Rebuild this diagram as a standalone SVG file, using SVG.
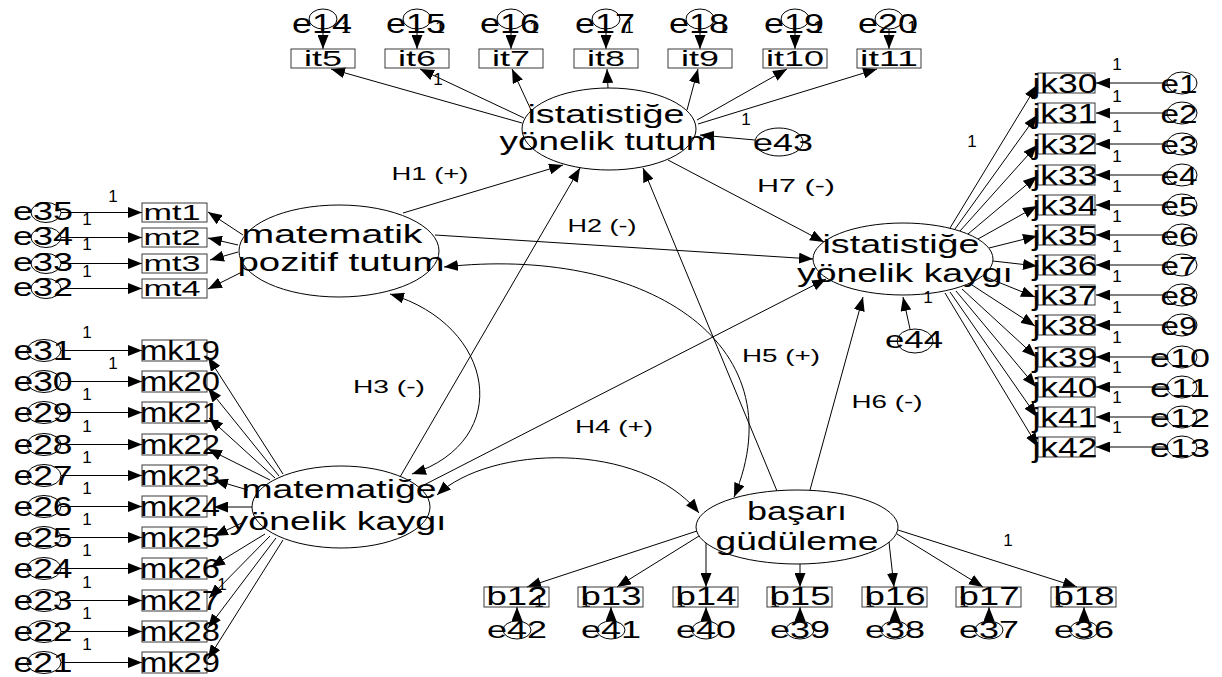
<svg xmlns="http://www.w3.org/2000/svg" width="1222" height="677" viewBox="0 0 1222 677">
<defs>
<style>
text{font-family:"Liberation Sans",Arial,sans-serif;fill:#000;text-anchor:middle}
.lat{font-size:25px}
.s21{font-size:22px}
.s27{font-size:27px}
.s25{font-size:25px}
.s24{font-size:24px}
.w{font-size:17px}
.h{font-size:18px}
.el{fill:none;stroke:#000;stroke-width:1}
.bx{fill:none;stroke:#3a3a3a;stroke-width:1}
#connectors line,#connectors path{fill:none;stroke:#000;stroke-width:1;marker-end:url(#ah)}
#connectors .dbl{marker-start:url(#ah)}
</style>
<marker id="ah" viewBox="0 0 14 11" refX="14" refY="5.5" markerWidth="14" markerHeight="11" markerUnits="userSpaceOnUse" orient="auto-start-reverse">
<path d="M0,0 L14,5.5 L0,11 z" fill="#000"/>
</marker>
</defs>
<rect width="1222" height="677" fill="#fff"/>

<g id="connectors">
<!-- error terms to it items -->
<line x1="323" y1="29" x2="323" y2="49"/>
<line x1="417" y1="29" x2="417" y2="49"/>
<line x1="511" y1="29" x2="511" y2="49"/>
<line x1="606" y1="29" x2="606" y2="49"/>
<line x1="700" y1="29" x2="700" y2="49"/>
<line x1="795" y1="29" x2="795" y2="49"/>
<line x1="889" y1="29" x2="889" y2="49"/>
<!-- istatistiğe yönelik tutum loadings -->
<line x1="522" y1="123" x2="331" y2="69"/>
<line x1="524" y1="118" x2="420" y2="69"/>
<line x1="531" y1="110" x2="512" y2="69"/>
<line x1="608" y1="88" x2="607" y2="69"/>
<line x1="687" y1="110" x2="698" y2="69"/>
<line x1="697" y1="120" x2="787" y2="69"/>
<line x1="698" y1="124" x2="877" y2="69"/>
<line x1="755" y1="140" x2="700" y2="135"/>
<!-- matematik pozitif tutum -->
<line x1="61" y1="212.5" x2="142" y2="212.5"/>
<line x1="61" y1="237.5" x2="142" y2="237.5"/>
<line x1="61" y1="263.5" x2="142" y2="263.5"/>
<line x1="61" y1="288.5" x2="142" y2="288.5"/>
<line x1="243" y1="235" x2="208" y2="212"/>
<line x1="238" y1="245" x2="208" y2="238"/>
<line x1="238" y1="252" x2="210" y2="260"/>
<line x1="242" y1="272" x2="208" y2="289"/>
<!-- matematiğe yönelik kaygı -->
<line x1="61" y1="350.5" x2="142" y2="350.5"/>
<line x1="61" y1="381.5" x2="142" y2="381.5"/>
<line x1="61" y1="412.5" x2="142" y2="412.5"/>
<line x1="61" y1="444.5" x2="142" y2="444.5"/>
<line x1="61" y1="475.5" x2="142" y2="475.5"/>
<line x1="61" y1="506.5" x2="142" y2="506.5"/>
<line x1="61" y1="537.5" x2="142" y2="537.5"/>
<line x1="61" y1="568.5" x2="142" y2="568.5"/>
<line x1="61" y1="600.5" x2="142" y2="600.5"/>
<line x1="61" y1="631.5" x2="142" y2="631.5"/>
<line x1="61" y1="662.5" x2="142" y2="662.5"/>
<line x1="283" y1="474" x2="208" y2="357"/>
<line x1="279" y1="476" x2="208" y2="388"/>
<line x1="275" y1="478" x2="209" y2="418"/>
<line x1="270" y1="480" x2="208" y2="449"/>
<line x1="248" y1="490" x2="214" y2="480"/>
<line x1="252" y1="507" x2="214" y2="507"/>
<line x1="244" y1="522" x2="214" y2="536"/>
<line x1="265" y1="534" x2="211" y2="567"/>
<line x1="270" y1="536" x2="209" y2="598"/>
<line x1="276" y1="538" x2="208" y2="628"/>
<line x1="283" y1="540" x2="208" y2="659"/>
<!-- istatistiğe yönelik kaygı -->
<line x1="950" y1="228" x2="1037" y2="85"/>
<line x1="955" y1="229" x2="1037" y2="115"/>
<line x1="960" y1="231" x2="1037" y2="145"/>
<line x1="968" y1="234" x2="1037" y2="176"/>
<line x1="978" y1="239" x2="1037" y2="206"/>
<line x1="989" y1="248" x2="1037" y2="236"/>
<line x1="993" y1="261" x2="1037" y2="266"/>
<line x1="983" y1="276" x2="1035" y2="297"/>
<line x1="972" y1="285" x2="1035" y2="326"/>
<line x1="962" y1="289" x2="1036" y2="357"/>
<line x1="956" y1="291" x2="1036" y2="387"/>
<line x1="950" y1="292" x2="1037" y2="417"/>
<line x1="945" y1="293" x2="1038" y2="447"/>
<line x1="1167" y1="83" x2="1096" y2="83"/>
<line x1="1167" y1="113" x2="1096" y2="113"/>
<line x1="1167" y1="144" x2="1096" y2="144"/>
<line x1="1167" y1="175" x2="1096" y2="175"/>
<line x1="1167" y1="205" x2="1096" y2="205"/>
<line x1="1167" y1="235" x2="1096" y2="235"/>
<line x1="1167" y1="265" x2="1096" y2="265"/>
<line x1="1167" y1="295" x2="1096" y2="295"/>
<line x1="1167" y1="325" x2="1096" y2="325"/>
<line x1="1167" y1="357" x2="1096" y2="357"/>
<line x1="1167" y1="387" x2="1096" y2="387"/>
<line x1="1167" y1="417" x2="1096" y2="417"/>
<line x1="1167" y1="447" x2="1096" y2="447"/>
<line x1="910" y1="329" x2="903" y2="297"/>
<!-- başarı güdüleme -->
<line x1="697" y1="531" x2="527" y2="587"/>
<line x1="699" y1="536" x2="617" y2="587"/>
<line x1="706" y1="543" x2="706" y2="587"/>
<line x1="800" y1="564" x2="800" y2="587"/>
<line x1="889" y1="542" x2="894" y2="587"/>
<line x1="897" y1="534" x2="983" y2="587"/>
<line x1="898" y1="530" x2="1077" y2="587"/>
<line x1="517" y1="621" x2="517" y2="607"/>
<line x1="611" y1="621" x2="611" y2="607"/>
<line x1="706" y1="621" x2="706" y2="607"/>
<line x1="800" y1="621" x2="800" y2="607"/>
<line x1="895" y1="621" x2="895" y2="607"/>
<line x1="989" y1="621" x2="989" y2="607"/>
<line x1="1084" y1="621" x2="1084" y2="607"/>
<!-- structural paths -->
<line x1="403" y1="213" x2="563" y2="165"/>
<line x1="435" y1="235" x2="813" y2="259"/>
<line x1="400" y1="477" x2="580" y2="168"/>
<line x1="422" y1="486" x2="826" y2="279"/>
<line x1="777" y1="491" x2="643" y2="168"/>
<line x1="810" y1="490" x2="863" y2="297"/>
<line x1="668" y1="160" x2="824" y2="242"/>
<!-- covariances -->
<path class="dbl" d="M390,294 C495,325 515,440 412,474"/>
<path class="dbl" d="M437,495 C490,445 640,440 699,513"/>
<path class="dbl" d="M444,267 C640,245 800,340 734,497"/>
</g>

<g id="path-labels">
<text class="h" x="430" y="180" textLength="77" lengthAdjust="spacingAndGlyphs">H1 (+)</text>
<text class="h" x="602" y="232" textLength="69" lengthAdjust="spacingAndGlyphs">H2 (-)</text>
<text class="h" x="389" y="393" textLength="72" lengthAdjust="spacingAndGlyphs">H3 (-)</text>
<text class="h" x="614" y="433" textLength="78" lengthAdjust="spacingAndGlyphs">H4 (+)</text>
<text class="h" x="781" y="362" textLength="78" lengthAdjust="spacingAndGlyphs">H5 (+)</text>
<text class="h" x="887" y="408" textLength="71" lengthAdjust="spacingAndGlyphs">H6 (-)</text>
<text class="h" x="796" y="192" textLength="78" lengthAdjust="spacingAndGlyphs">H7  (-)</text>
</g>

<g id="weights">
<text class="w" x="346" y="33">1</text>
<text class="w" x="440" y="33">1</text>
<text class="w" x="534" y="33">1</text>
<text class="w" x="629" y="33">1</text>
<text class="w" x="723" y="33">1</text>
<text class="w" x="818" y="33">1</text>
<text class="w" x="912" y="33">1</text>
<text class="w" x="438" y="85">1</text>
<text class="w" x="746" y="125">1</text>
<text class="w" x="972" y="147">1</text>
<text class="w" x="928" y="303">1</text>
<text class="w" x="113" y="202">1</text>
<text class="w" x="87" y="225">1</text>
<text class="w" x="87" y="250">1</text>
<text class="w" x="87" y="277">1</text>
<text class="w" x="87" y="338">1</text>
<text class="w" x="113" y="369">1</text>
<text class="w" x="87" y="400">1</text>
<text class="w" x="87" y="432">1</text>
<text class="w" x="87" y="463">1</text>
<text class="w" x="87" y="494">1</text>
<text class="w" x="87" y="525">1</text>
<text class="w" x="87" y="556">1</text>
<text class="w" x="87" y="588">1</text>
<text class="w" x="87" y="619">1</text>
<text class="w" x="87" y="650">1</text>
<text class="w" x="222" y="590">1</text>
<text class="w" x="1117" y="70">1</text>
<text class="w" x="1117" y="102">1</text>
<text class="w" x="1117" y="132">1</text>
<text class="w" x="1117" y="162">1</text>
<text class="w" x="1117" y="192">1</text>
<text class="w" x="1117" y="222">1</text>
<text class="w" x="1117" y="252">1</text>
<text class="w" x="1117" y="282">1</text>
<text class="w" x="1117" y="313">1</text>
<text class="w" x="1117" y="343">1</text>
<text class="w" x="1117" y="373">1</text>
<text class="w" x="1117" y="403">1</text>
<text class="w" x="1117" y="433">1</text>
<text class="w" x="539" y="607">1</text>
<text class="w" x="586" y="607">1</text>
<text class="w" x="681" y="607">1</text>
<text class="w" x="775" y="607">1</text>
<text class="w" x="870" y="607">1</text>
<text class="w" x="964" y="607">1</text>
<text class="w" x="1059" y="607">1</text>
<text class="w" x="1008" y="546">1</text>
</g>

<!-- latent variables -->
<g id="lat-ist-tutum">
<ellipse class="el" cx="609" cy="129" rx="87" ry="41"/>
<text class="lat" x="606" y="123" textLength="157" lengthAdjust="spacingAndGlyphs">istatistiğe</text>
<text class="lat" x="608" y="150" textLength="217" lengthAdjust="spacingAndGlyphs">yönelik tutum</text>
</g>
<g id="lat-mat-pozitif">
<ellipse class="el" cx="339" cy="251" rx="100" ry="46"/>
<text class="lat" x="332" y="243" textLength="181" lengthAdjust="spacingAndGlyphs">matematik</text>
<text class="lat" x="341" y="271" textLength="207" lengthAdjust="spacingAndGlyphs">pozitif tutum</text>
</g>
<g id="lat-mat-kaygi">
<ellipse class="el" cx="341" cy="507" rx="89" ry="41"/>
<text class="lat" x="339" y="498" textLength="195" lengthAdjust="spacingAndGlyphs">matematiğe</text>
<text class="lat" x="338" y="530" textLength="217" lengthAdjust="spacingAndGlyphs">yönelik kaygı</text>
</g>
<g id="lat-ist-kaygi">
<ellipse class="el" cx="903" cy="259" rx="90" ry="36"/>
<text class="lat" x="901" y="253" textLength="157" lengthAdjust="spacingAndGlyphs">istatistiğe</text>
<text class="lat" x="905" y="282" textLength="216" lengthAdjust="spacingAndGlyphs">yönelik kaygı</text>
</g>
<g id="lat-basari">
<ellipse class="el" cx="797" cy="527" rx="101" ry="37"/>
<text class="lat" x="797" y="520" textLength="100" lengthAdjust="spacingAndGlyphs">başarı</text>
<text class="lat" x="797" y="550" textLength="163" lengthAdjust="spacingAndGlyphs">güdüleme</text>
</g>

<!-- it items and their errors -->
<g id="it5"><rect class="bx" x="291" y="49" width="64" height="19"/><text class="s21" x="323" y="66" textLength="38" lengthAdjust="spacingAndGlyphs">it5</text></g>
<g id="it6"><rect class="bx" x="385" y="49" width="64" height="19"/><text class="s21" x="417" y="66" textLength="38" lengthAdjust="spacingAndGlyphs">it6</text></g>
<g id="it7"><rect class="bx" x="479" y="49" width="64" height="19"/><text class="s21" x="511" y="66" textLength="38" lengthAdjust="spacingAndGlyphs">it7</text></g>
<g id="it8"><rect class="bx" x="574" y="49" width="64" height="19"/><text class="s21" x="606" y="66" textLength="38" lengthAdjust="spacingAndGlyphs">it8</text></g>
<g id="it9"><rect class="bx" x="668" y="49" width="64" height="19"/><text class="s21" x="700" y="66" textLength="38" lengthAdjust="spacingAndGlyphs">it9</text></g>
<g id="it10"><rect class="bx" x="763" y="49" width="64" height="19"/><text class="s21" x="795" y="66" textLength="58" lengthAdjust="spacingAndGlyphs">it10</text></g>
<g id="it11"><rect class="bx" x="857" y="49" width="64" height="19"/><text class="s21" x="889" y="66" textLength="58" lengthAdjust="spacingAndGlyphs">it11</text></g>
<g id="e14"><ellipse class="el" cx="323" cy="19" rx="14" ry="10"/><text class="s27" x="322" y="33" textLength="60" lengthAdjust="spacingAndGlyphs">e14</text></g>
<g id="e15"><ellipse class="el" cx="417" cy="19" rx="14" ry="10"/><text class="s27" x="416" y="33" textLength="60" lengthAdjust="spacingAndGlyphs">e15</text></g>
<g id="e16"><ellipse class="el" cx="511" cy="19" rx="14" ry="10"/><text class="s27" x="510" y="33" textLength="60" lengthAdjust="spacingAndGlyphs">e16</text></g>
<g id="e17"><ellipse class="el" cx="606" cy="19" rx="14" ry="10"/><text class="s27" x="605" y="33" textLength="60" lengthAdjust="spacingAndGlyphs">e17</text></g>
<g id="e18"><ellipse class="el" cx="700" cy="19" rx="14" ry="10"/><text class="s27" x="699" y="33" textLength="60" lengthAdjust="spacingAndGlyphs">e18</text></g>
<g id="e19"><ellipse class="el" cx="795" cy="19" rx="14" ry="10"/><text class="s27" x="794" y="33" textLength="60" lengthAdjust="spacingAndGlyphs">e19</text></g>
<g id="e20"><ellipse class="el" cx="889" cy="19" rx="14" ry="10"/><text class="s27" x="888" y="33" textLength="60" lengthAdjust="spacingAndGlyphs">e20</text></g>
<g id="e43"><ellipse class="el" cx="779" cy="142" rx="24" ry="14"/><text class="s24" x="783" y="151" textLength="60" lengthAdjust="spacingAndGlyphs">e43</text></g>

<!-- mt items -->
<g id="mt1"><rect class="bx" x="142" y="203" width="65" height="19"/><text class="s21" x="172" y="220" textLength="57" lengthAdjust="spacingAndGlyphs">mt1</text></g>
<g id="mt2"><rect class="bx" x="142" y="228" width="65" height="19"/><text class="s21" x="172" y="245" textLength="57" lengthAdjust="spacingAndGlyphs">mt2</text></g>
<g id="mt3"><rect class="bx" x="142" y="254" width="65" height="19"/><text class="s21" x="172" y="271" textLength="57" lengthAdjust="spacingAndGlyphs">mt3</text></g>
<g id="mt4"><rect class="bx" x="142" y="279" width="65" height="19"/><text class="s21" x="172" y="296" textLength="57" lengthAdjust="spacingAndGlyphs">mt4</text></g>
<g id="e35"><ellipse class="el" cx="46" cy="212.5" rx="15" ry="10"/><text class="s25" x="43" y="220" textLength="60" lengthAdjust="spacingAndGlyphs">e35</text></g>
<g id="e34"><ellipse class="el" cx="46" cy="237.5" rx="15" ry="10"/><text class="s25" x="43" y="245" textLength="60" lengthAdjust="spacingAndGlyphs">e34</text></g>
<g id="e33"><ellipse class="el" cx="46" cy="263.5" rx="15" ry="10"/><text class="s25" x="43" y="271" textLength="60" lengthAdjust="spacingAndGlyphs">e33</text></g>
<g id="e32"><ellipse class="el" cx="46" cy="288.5" rx="15" ry="10"/><text class="s25" x="43" y="296" textLength="60" lengthAdjust="spacingAndGlyphs">e32</text></g>

<!-- mk items -->
<g id="mk19"><rect class="bx" x="142" y="340" width="65" height="21"/><text class="s27" x="180" y="360" textLength="80" lengthAdjust="spacingAndGlyphs">mk19</text></g>
<g id="mk20"><rect class="bx" x="142" y="371" width="65" height="21"/><text class="s27" x="180" y="391" textLength="80" lengthAdjust="spacingAndGlyphs">mk20</text></g>
<g id="mk21"><rect class="bx" x="142" y="402" width="65" height="21"/><text class="s27" x="180" y="422" textLength="80" lengthAdjust="spacingAndGlyphs">mk21</text></g>
<g id="mk22"><rect class="bx" x="142" y="434" width="65" height="21"/><text class="s27" x="180" y="454" textLength="80" lengthAdjust="spacingAndGlyphs">mk22</text></g>
<g id="mk23"><rect class="bx" x="142" y="465" width="65" height="21"/><text class="s27" x="180" y="485" textLength="80" lengthAdjust="spacingAndGlyphs">mk23</text></g>
<g id="mk24"><rect class="bx" x="142" y="496" width="65" height="21"/><text class="s27" x="180" y="516" textLength="80" lengthAdjust="spacingAndGlyphs">mk24</text></g>
<g id="mk25"><rect class="bx" x="142" y="527" width="65" height="21"/><text class="s27" x="180" y="547" textLength="80" lengthAdjust="spacingAndGlyphs">mk25</text></g>
<g id="mk26"><rect class="bx" x="142" y="558" width="65" height="21"/><text class="s27" x="180" y="578" textLength="80" lengthAdjust="spacingAndGlyphs">mk26</text></g>
<g id="mk27"><rect class="bx" x="142" y="590" width="65" height="21"/><text class="s27" x="180" y="610" textLength="80" lengthAdjust="spacingAndGlyphs">mk27</text></g>
<g id="mk28"><rect class="bx" x="142" y="621" width="65" height="21"/><text class="s27" x="180" y="641" textLength="80" lengthAdjust="spacingAndGlyphs">mk28</text></g>
<g id="mk29"><rect class="bx" x="142" y="652" width="65" height="21"/><text class="s27" x="180" y="672" textLength="80" lengthAdjust="spacingAndGlyphs">mk29</text></g>
<g id="e31"><ellipse class="el" cx="44" cy="350.5" rx="17" ry="11"/><text class="s27" x="43" y="360" textLength="59" lengthAdjust="spacingAndGlyphs">e31</text></g>
<g id="e30"><ellipse class="el" cx="44" cy="381.5" rx="17" ry="11"/><text class="s27" x="43" y="391" textLength="59" lengthAdjust="spacingAndGlyphs">e30</text></g>
<g id="e29"><ellipse class="el" cx="44" cy="412.5" rx="17" ry="11"/><text class="s27" x="43" y="422" textLength="59" lengthAdjust="spacingAndGlyphs">e29</text></g>
<g id="e28"><ellipse class="el" cx="44" cy="444.5" rx="17" ry="11"/><text class="s27" x="43" y="454" textLength="59" lengthAdjust="spacingAndGlyphs">e28</text></g>
<g id="e27"><ellipse class="el" cx="44" cy="475.5" rx="17" ry="11"/><text class="s27" x="43" y="485" textLength="59" lengthAdjust="spacingAndGlyphs">e27</text></g>
<g id="e26"><ellipse class="el" cx="44" cy="506.5" rx="17" ry="11"/><text class="s27" x="43" y="516" textLength="59" lengthAdjust="spacingAndGlyphs">e26</text></g>
<g id="e25"><ellipse class="el" cx="44" cy="537.5" rx="17" ry="11"/><text class="s27" x="43" y="547" textLength="59" lengthAdjust="spacingAndGlyphs">e25</text></g>
<g id="e24"><ellipse class="el" cx="44" cy="568.5" rx="17" ry="11"/><text class="s27" x="43" y="578" textLength="59" lengthAdjust="spacingAndGlyphs">e24</text></g>
<g id="e23"><ellipse class="el" cx="44" cy="600.5" rx="17" ry="11"/><text class="s27" x="43" y="610" textLength="59" lengthAdjust="spacingAndGlyphs">e23</text></g>
<g id="e22"><ellipse class="el" cx="44" cy="631.5" rx="17" ry="11"/><text class="s27" x="43" y="641" textLength="59" lengthAdjust="spacingAndGlyphs">e22</text></g>
<g id="e21"><ellipse class="el" cx="44" cy="662.5" rx="17" ry="11"/><text class="s27" x="43" y="672" textLength="59" lengthAdjust="spacingAndGlyphs">e21</text></g>

<!-- jk items -->
<g id="jk30"><rect class="bx" x="1038" y="73" width="57" height="20"/><text class="s27" x="1065" y="93" textLength="65" lengthAdjust="spacingAndGlyphs">jk30</text></g>
<g id="jk31"><rect class="bx" x="1038" y="103" width="57" height="20"/><text class="s27" x="1065" y="123" textLength="65" lengthAdjust="spacingAndGlyphs">jk31</text></g>
<g id="jk32"><rect class="bx" x="1038" y="134" width="57" height="20"/><text class="s27" x="1065" y="154" textLength="65" lengthAdjust="spacingAndGlyphs">jk32</text></g>
<g id="jk33"><rect class="bx" x="1038" y="165" width="57" height="20"/><text class="s27" x="1065" y="185" textLength="65" lengthAdjust="spacingAndGlyphs">jk33</text></g>
<g id="jk34"><rect class="bx" x="1038" y="195" width="57" height="20"/><text class="s27" x="1065" y="215" textLength="65" lengthAdjust="spacingAndGlyphs">jk34</text></g>
<g id="jk35"><rect class="bx" x="1038" y="225" width="57" height="20"/><text class="s27" x="1065" y="245" textLength="65" lengthAdjust="spacingAndGlyphs">jk35</text></g>
<g id="jk36"><rect class="bx" x="1038" y="255" width="57" height="20"/><text class="s27" x="1065" y="275" textLength="65" lengthAdjust="spacingAndGlyphs">jk36</text></g>
<g id="jk37"><rect class="bx" x="1038" y="285" width="57" height="20"/><text class="s27" x="1065" y="305" textLength="65" lengthAdjust="spacingAndGlyphs">jk37</text></g>
<g id="jk38"><rect class="bx" x="1038" y="315" width="57" height="20"/><text class="s27" x="1065" y="335" textLength="65" lengthAdjust="spacingAndGlyphs">jk38</text></g>
<g id="jk39"><rect class="bx" x="1038" y="347" width="57" height="20"/><text class="s27" x="1065" y="367" textLength="65" lengthAdjust="spacingAndGlyphs">jk39</text></g>
<g id="jk40"><rect class="bx" x="1038" y="377" width="57" height="20"/><text class="s27" x="1065" y="397" textLength="65" lengthAdjust="spacingAndGlyphs">jk40</text></g>
<g id="jk41"><rect class="bx" x="1038" y="407" width="57" height="20"/><text class="s27" x="1065" y="427" textLength="65" lengthAdjust="spacingAndGlyphs">jk41</text></g>
<g id="jk42"><rect class="bx" x="1038" y="437" width="57" height="20"/><text class="s27" x="1065" y="457" textLength="65" lengthAdjust="spacingAndGlyphs">jk42</text></g>
<g id="e1"><ellipse class="el" cx="1182" cy="83" rx="15" ry="11"/><text class="s25" x="1179" y="93" textLength="37" lengthAdjust="spacingAndGlyphs">e1</text></g>
<g id="e2"><ellipse class="el" cx="1182" cy="113" rx="15" ry="11"/><text class="s25" x="1179" y="123" textLength="37" lengthAdjust="spacingAndGlyphs">e2</text></g>
<g id="e3"><ellipse class="el" cx="1182" cy="144" rx="15" ry="11"/><text class="s25" x="1179" y="154" textLength="37" lengthAdjust="spacingAndGlyphs">e3</text></g>
<g id="e4"><ellipse class="el" cx="1182" cy="175" rx="15" ry="11"/><text class="s25" x="1179" y="185" textLength="37" lengthAdjust="spacingAndGlyphs">e4</text></g>
<g id="e5"><ellipse class="el" cx="1182" cy="205" rx="15" ry="11"/><text class="s25" x="1179" y="215" textLength="37" lengthAdjust="spacingAndGlyphs">e5</text></g>
<g id="e6"><ellipse class="el" cx="1182" cy="235" rx="15" ry="11"/><text class="s25" x="1179" y="245" textLength="37" lengthAdjust="spacingAndGlyphs">e6</text></g>
<g id="e7"><ellipse class="el" cx="1182" cy="265" rx="15" ry="11"/><text class="s25" x="1179" y="275" textLength="37" lengthAdjust="spacingAndGlyphs">e7</text></g>
<g id="e8"><ellipse class="el" cx="1182" cy="295" rx="15" ry="11"/><text class="s25" x="1179" y="305" textLength="37" lengthAdjust="spacingAndGlyphs">e8</text></g>
<g id="e9"><ellipse class="el" cx="1182" cy="325" rx="15" ry="11"/><text class="s25" x="1179" y="335" textLength="37" lengthAdjust="spacingAndGlyphs">e9</text></g>
<g id="e10"><ellipse class="el" cx="1182" cy="357" rx="15" ry="11"/><text class="s25" x="1180" y="367" textLength="60" lengthAdjust="spacingAndGlyphs">e10</text></g>
<g id="e11"><ellipse class="el" cx="1182" cy="387" rx="15" ry="11"/><text class="s25" x="1180" y="397" textLength="60" lengthAdjust="spacingAndGlyphs">e11</text></g>
<g id="e12"><ellipse class="el" cx="1182" cy="417" rx="15" ry="11"/><text class="s25" x="1180" y="427" textLength="60" lengthAdjust="spacingAndGlyphs">e12</text></g>
<g id="e13"><ellipse class="el" cx="1182" cy="447" rx="15" ry="11"/><text class="s25" x="1180" y="457" textLength="60" lengthAdjust="spacingAndGlyphs">e13</text></g>
<g id="e44"><ellipse class="el" cx="915" cy="341" rx="18" ry="12"/><text class="s24" x="914" y="348" textLength="58" lengthAdjust="spacingAndGlyphs">e44</text></g>

<!-- b items -->
<g id="b12"><rect class="bx" x="484" y="587" width="65" height="20"/><text class="s25" x="517" y="605" textLength="61" lengthAdjust="spacingAndGlyphs">b12</text></g>
<g id="b13"><rect class="bx" x="578" y="587" width="65" height="20"/><text class="s25" x="611" y="605" textLength="61" lengthAdjust="spacingAndGlyphs">b13</text></g>
<g id="b14"><rect class="bx" x="673" y="587" width="65" height="20"/><text class="s25" x="706" y="605" textLength="61" lengthAdjust="spacingAndGlyphs">b14</text></g>
<g id="b15"><rect class="bx" x="767" y="587" width="65" height="20"/><text class="s25" x="800" y="605" textLength="61" lengthAdjust="spacingAndGlyphs">b15</text></g>
<g id="b16"><rect class="bx" x="862" y="587" width="65" height="20"/><text class="s25" x="895" y="605" textLength="61" lengthAdjust="spacingAndGlyphs">b16</text></g>
<g id="b17"><rect class="bx" x="956" y="587" width="65" height="20"/><text class="s25" x="989" y="605" textLength="61" lengthAdjust="spacingAndGlyphs">b17</text></g>
<g id="b18"><rect class="bx" x="1051" y="587" width="65" height="20"/><text class="s25" x="1084" y="605" textLength="61" lengthAdjust="spacingAndGlyphs">b18</text></g>
<g id="e42"><ellipse class="el" cx="517" cy="630" rx="14" ry="9"/><text class="s24" x="517" y="638" textLength="60" lengthAdjust="spacingAndGlyphs">e42</text></g>
<g id="e41"><ellipse class="el" cx="611" cy="630" rx="14" ry="9"/><text class="s24" x="611" y="638" textLength="60" lengthAdjust="spacingAndGlyphs">e41</text></g>
<g id="e40"><ellipse class="el" cx="706" cy="630" rx="14" ry="9"/><text class="s24" x="706" y="638" textLength="60" lengthAdjust="spacingAndGlyphs">e40</text></g>
<g id="e39"><ellipse class="el" cx="800" cy="630" rx="14" ry="9"/><text class="s24" x="800" y="638" textLength="60" lengthAdjust="spacingAndGlyphs">e39</text></g>
<g id="e38"><ellipse class="el" cx="895" cy="630" rx="14" ry="9"/><text class="s24" x="895" y="638" textLength="60" lengthAdjust="spacingAndGlyphs">e38</text></g>
<g id="e37"><ellipse class="el" cx="989" cy="630" rx="14" ry="9"/><text class="s24" x="989" y="638" textLength="60" lengthAdjust="spacingAndGlyphs">e37</text></g>
<g id="e36"><ellipse class="el" cx="1084" cy="630" rx="14" ry="9"/><text class="s24" x="1084" y="638" textLength="60" lengthAdjust="spacingAndGlyphs">e36</text></g>
</svg>
